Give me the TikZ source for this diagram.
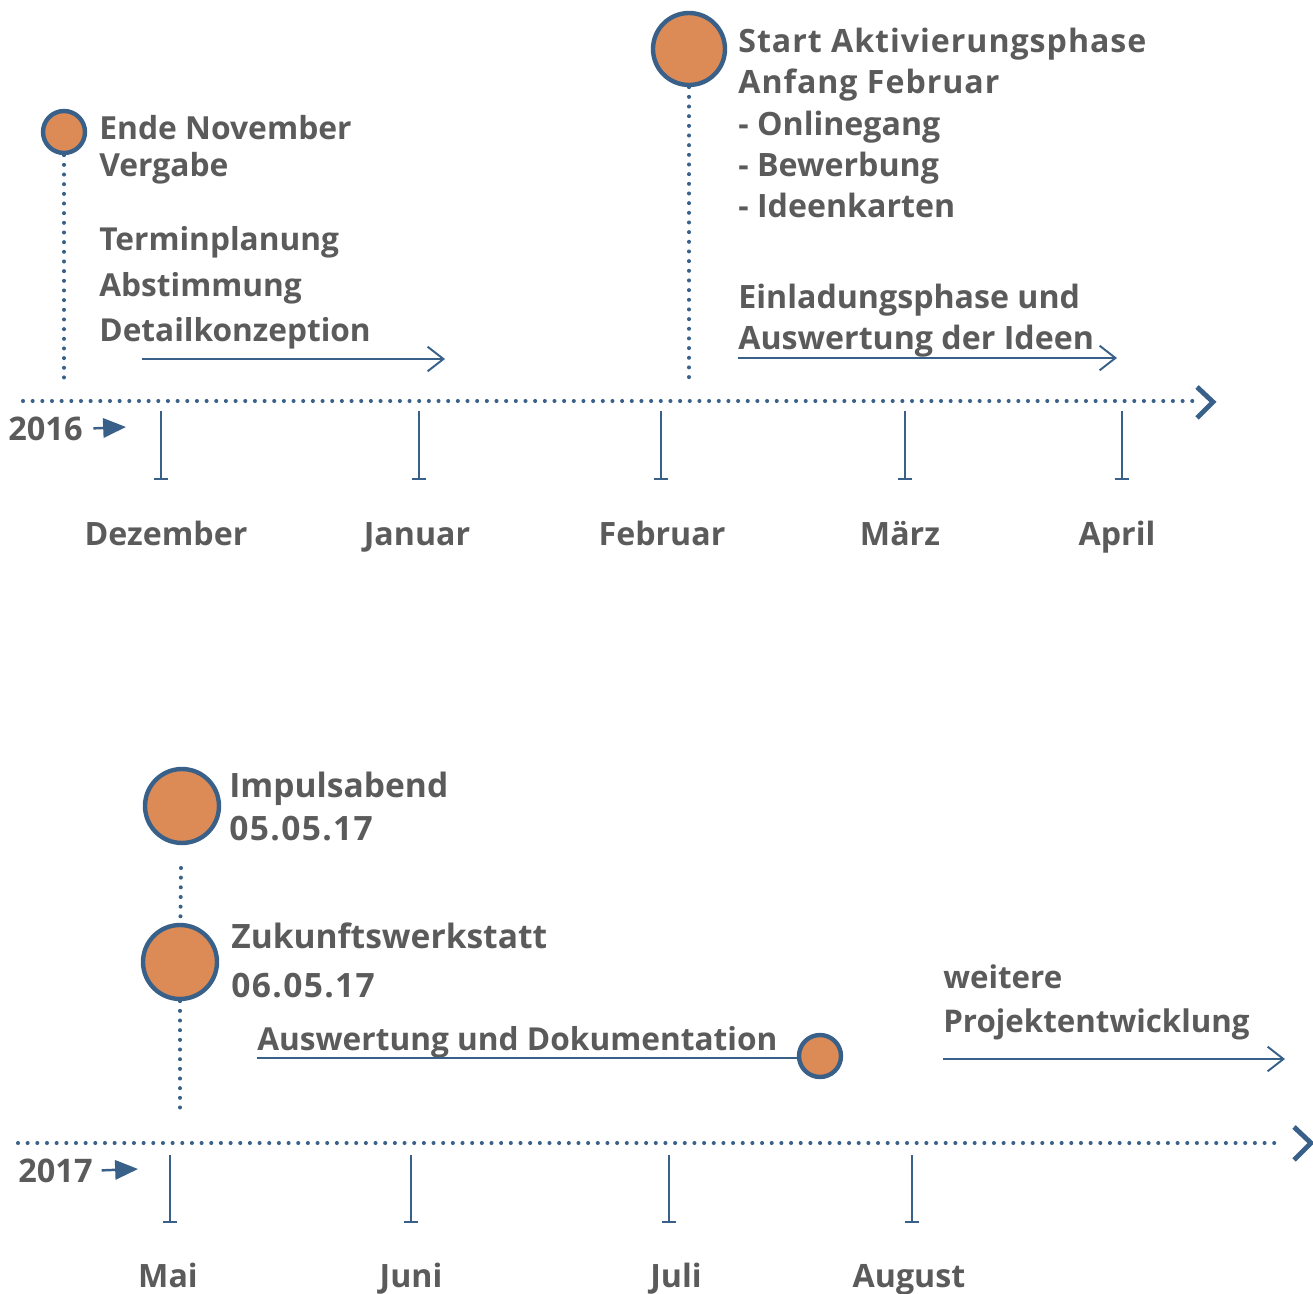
\documentclass[tikz,border=0pt]{standalone}
\usepackage{fontspec}
\setmainfont{Open Sans}
\usetikzlibrary{arrows.meta, positioning, calc}

\definecolor{tlblue}{HTML}{386088}
\definecolor{tlorange}{HTML}{DC8B57}
\definecolor{tlgray}{HTML}{5B5B5B}

\begin{document}
\begin{tikzpicture}[
    x=0.02cm, y=-0.02cm,
    lbl/.style={text=tlgray, inner sep=0pt, align=left},
    monthlbl/.style={lbl, anchor=base, font=\bfseries\fontsize{18.3}{22}\selectfont},
    yearlbl/.style={lbl, anchor=base west, font=\bfseries\fontsize{18.5}{22}\selectfont},
    event/.style={circle, draw=tlblue, fill=tlorange, line width=2.5pt, inner sep=0pt},
    evsmall/.style={event, minimum size=0.84cm},
    evbig/.style={event, minimum size=1.44cm},
    dotline/.style={tlblue, line width=2.3pt, line cap=round, dash pattern=on 0pt off 5.5pt},
    chevron/.style={tlblue, line width=2.8pt, line join=miter},
    period/.style={tlblue, line width=1.1pt, -{Straight Barb[length=9pt,width=14pt]}},
    tickline/.style={tlblue, line width=1.1pt, -{Bar[width=8.5pt]}},
    yeararrow/.style={tlblue, line width=1.4pt, -{Triangle[length=13pt,width=11pt]}}
]
\useasboundingbox (0,0) rectangle (1313,1294);

% ---- 2016 ----
\coordinate (ax1a) at (23,401);
\coordinate (ax1b) at (1193,401);
\draw[dotline] (ax1a) -- (ax1b);
\draw[chevron] ([shift={(4,-14)}]ax1b) -- ([shift={(20,1)}]ax1b) -- ([shift={(4,17)}]ax1b);

\node[yearlbl] (y2016) at (8,440) {2016};
\coordinate (y2016tip) at (126,427);
\draw[yeararrow] ([xshift=6pt]y2016.east) -- (y2016tip);

\foreach \x/\lx/\m [count=\i] in {161/166/Dezember, 419/417/Januar, 661/662/Februar, 905/900/März, 1122/1117/April}{
    \coordinate (tick1-\i) at (\x,411);
    \coordinate (foot1-\i) at (\x,480);
    \draw[tickline] (tick1-\i) -- (foot1-\i);
    \node[monthlbl] (mon1-\i) at (\lx,545) {\m};
}

% events november / february
\node[evsmall] (nov) at (64,132) {};
\coordinate (nov-end) at (64,382);
\draw[dotline] (nov) -- (nov-end);
\node[lbl, anchor=west, font=\bfseries\fontsize{18.1}{21}\selectfont] (novtxt) at (99,150) {Ende November\\Vergabe};
\node[lbl, anchor=west, font=\bfseries\fontsize{18}{26}\selectfont] (plan) at (99,288) {Terminplanung\\Abstimmung\\Detailkonzeption};
\coordinate (plan-a) at (142,359);
\coordinate (plan-b) at (445,359);
\draw[period] (plan-a) -- (plan-b);

\node[evbig] (feb) at (689,49) {};
\coordinate (feb-end) at (689,380);
\draw[dotline] (feb) -- (feb-end);
\node[lbl, anchor=west, font=\bfseries\fontsize{18.3}{23.5}\selectfont] (febtxt) at (738,123) {{\addfontfeatures{LetterSpace=3}Start Aktivierungsphase}\\{\addfontfeatures{LetterSpace=3}Anfang Februar}\\- Onlinegang\\- Bewerbung\\- Ideenkarten};
\node[lbl, anchor=west, font=\bfseries\fontsize{18.3}{23.3}\selectfont] (einl) at (738,321) {Einladungsphase und\\Auswertung der Ideen};
\coordinate (einl-a) at (738,358);
\coordinate (einl-b) at (1117,358);
\draw[period] (einl-a) -- (einl-b);

% ---- 2017 ----
\coordinate (ax2a) at (18,1143);
\coordinate (ax2b) at (1277,1143);
\draw[dotline] (ax2a) -- (ax2b);
\draw[chevron] ([shift={(17,-16)}]ax2b) -- ([shift={(34,0)}]ax2b) -- ([shift={(17,17)}]ax2b);

\node[yearlbl] (y2017) at (18,1182) {2017};
\coordinate (y2017tip) at (138,1169);
\draw[yeararrow] ([xshift=5pt]y2017.east) -- (y2017tip);

\foreach \x/\lx/\m [count=\i] in {170/168/Mai, 411/411/Juni, 669/676/Juli, 912/909/August}{
    \coordinate (tick2-\i) at (\x,1155);
    \coordinate (foot2-\i) at (\x,1223);
    \draw[tickline] (tick2-\i) -- (foot2-\i);
    \node[monthlbl] (mon2-\i) at (\lx,1287) {\m};
}

% events may
\node[evbig, minimum size=1.48cm] (imp) at (182,806) {};
\node[evbig, minimum size=1.48cm] (zuk) at (180,962) {};
\coordinate (imp-a) at (181,868);
\draw[dotline] (imp-a) -- (zuk);
\coordinate (zuk-end) at (180,1110);
\draw[dotline] (zuk) -- (zuk-end);
\node[lbl, anchor=west, font=\bfseries\fontsize{19.1}{24.5}\selectfont] (imptxt) at (229,806) {Impulsabend\\{\addfontfeatures{LetterSpace=4}05.05.17}};
\node[lbl, anchor=west, font=\bfseries\fontsize{19.1}{27.9}\selectfont] (zuktxt) at (231,960) {Zukunftswerkstatt\\{\addfontfeatures{LetterSpace=4}06.05.17}};

\node[lbl, anchor=base west, font=\bfseries\fontsize{18}{22}\selectfont] (doku) at (257,1050) {Auswertung und Dokumentation};
\node[evsmall] (doku-end) at (820,1056) {};
\coordinate (doku-a) at (257,1058);
\draw[tlblue, line width=1.1pt] (doku-a) -- (doku-a -| doku-end.west);

\node[lbl, anchor=west, font=\bfseries\fontsize{17.8}{25}\selectfont] (weiter) at (943,1002) {weitere\\Projektentwicklung};
\coordinate (weiter-a) at (943,1059);
\coordinate (weiter-b) at (1285,1059);
\draw[period] (weiter-a) -- (weiter-b);
\end{tikzpicture}
\end{document}
